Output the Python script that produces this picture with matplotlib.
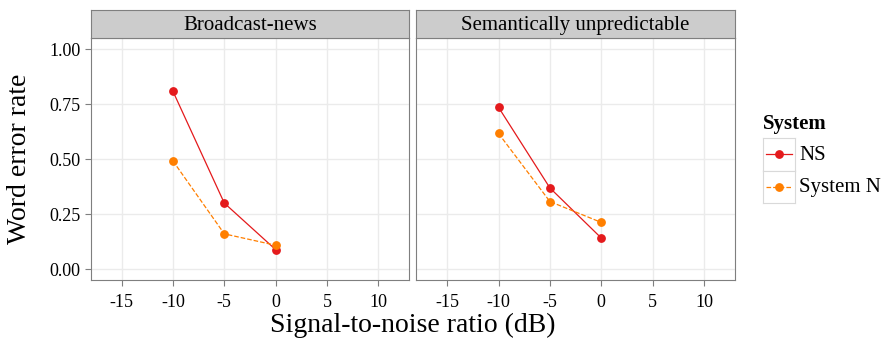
import numpy as np
import matplotlib.pyplot as plt
from matplotlib.patches import Rectangle
from matplotlib.lines import Line2D

plt.rcParams["font.family"] = ["Liberation Serif", "DejaVu Serif"]
plt.rcParams["axes.unicode_minus"] = False

snr = [-10, -5, 0]
panels = ["Broadcast-news", "Semantically unpredictable"]
ns_wer = [[0.809, 0.300, 0.088], [0.736, 0.369, 0.141]]
sysn_wer = [[0.492, 0.160, 0.108], [0.617, 0.307, 0.212]]
systems = ["NS", "System N"]
colors = ["#E41A1C", "#FF7F00"]
styles = ["-", "--"]

W, H = 885, 345
fig = plt.figure(figsize=(W / 100, H / 100), dpi=100)


def px_axes(x0, y0, x1, y1):
    return fig.add_axes([x0 / W, 1 - y1 / H, (x1 - x0) / W, (y1 - y0) / H])


lefts = [90.7, 416.3]
width = 318.6
for i, name in enumerate(panels):
    x0 = lefts[i]
    ax = px_axes(x0, 38.3, x0 + width, 280)
    strip = px_axes(x0, 9.7, x0 + width, 38.3)
    strip.set_facecolor("#CCCCCC")
    strip.set_xticks([])
    strip.set_yticks([])
    for s in strip.spines.values():
        s.set_color("#7F7F7F")
        s.set_linewidth(0.8)
    strip.text(0.5, 0.45, name, ha="center", va="center", fontsize=15,
               transform=strip.transAxes)

    for vals, c, ls in zip([ns_wer[i], sysn_wer[i]], colors, styles):
        ax.plot(snr, vals, color=c, linestyle=ls, linewidth=0.9,
                marker="o", markersize=5.3, zorder=3)

    ax.set_xlim(-18, 13)
    ax.set_ylim(-0.05, 1.05)
    ax.set_xticks([-15, -10, -5, 0, 5, 10])
    ax.set_yticks([0, 0.25, 0.5, 0.75, 1.0])
    ax.grid(True, color="#EBEBEB", linewidth=1.0, zorder=0)
    ax.set_axisbelow(True)
    for s in ax.spines.values():
        s.set_color("#7F7F7F")
        s.set_linewidth(0.8)
    ax.tick_params(direction="out", length=4, color="#7F7F7F", labelsize=13,
                   width=0.8)
    ax.tick_params(axis="x", pad=6)
    if i == 0:
        ax.set_yticklabels(["0.00", "0.25", "0.50", "0.75", "1.00"])
    else:
        ax.tick_params(axis="y", labelleft=False, length=0)

fig.text(413 / W, 1 - 325 / H, "Signal-to-noise ratio (dB)", ha="center",
         va="center", fontsize=20)
fig.text(20 / W, 1 - 159 / H, "Word error rate", ha="center", va="center",
         fontsize=20, rotation=90)

# legend
fig.text(763 / W, 1 - 124 / H, "System", ha="left", va="center",
         fontsize=15, fontweight="bold")
key_y = [138, 170.7]
for k, (lab, c, ls) in enumerate(zip(systems, colors, styles)):
    kx = px_axes(762.7, key_y[k], 795, key_y[k] + 32.5)
    kx.set_xlim(0, 1)
    kx.set_ylim(0, 1)
    kx.set_xticks([])
    kx.set_yticks([])
    for s in kx.spines.values():
        s.set_color("#D9D9D9")
        s.set_linewidth(0.8)
    kx.plot([0.1, 0.9], [0.5, 0.5], color=c, linestyle=ls, linewidth=0.9)
    kx.plot([0.5], [0.5], color=c, marker="o", markersize=5.3)
    fig.text(799 / W, 1 - (key_y[k] + 17) / H, lab, ha="left", va="center",
             fontsize=15)

fig.savefig("out.png", dpi=100)
